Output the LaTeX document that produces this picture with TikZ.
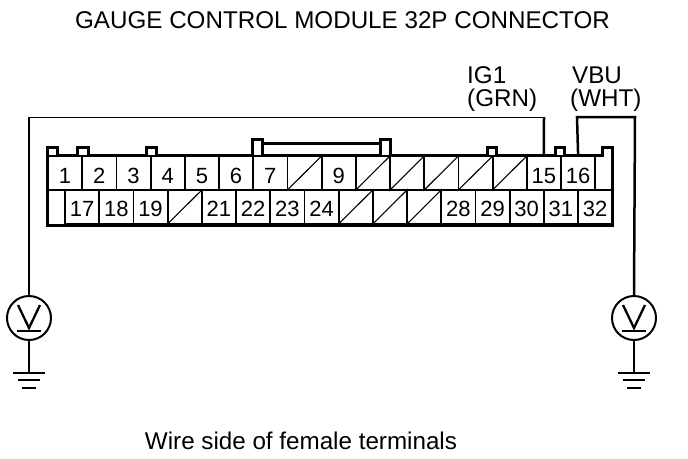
\documentclass[tikz,border=0pt]{standalone}
\usepackage{fontspec}
\setmainfont{Liberation Sans}
\tikzset{
  x=1pt,y=-1pt,
  cellbox/.style={draw,line width=1.8pt,inner sep=0pt,minimum width=34.2pt,minimum height=34pt,text depth=0pt,font=\fontsize{22}{22}\selectfont},
  toprow/.style={cellbox,text height=20pt},
  botrow/.style={cellbox,text height=19pt},
  outline/.style={line width=3pt,line join=miter},
  thinwire/.style={line width=1pt},
  midwire/.style={line width=1.7pt},
  thickwire/.style={line width=2.5pt},
  meter/.style={draw,circle,line width=2pt,minimum size=44pt,inner sep=0pt},
  slash/.style={line width=1.1pt},
  gnd/.style={line width=2.5pt},
  gndthin/.style={line width=1.7pt},
  label/.style={anchor=base west,inner sep=0pt,font=\fontsize{24.2}{24.2}\selectfont},
  caption/.style={anchor=base,inner sep=0pt,font=\fontsize{24.2}{24.2}\selectfont}
}
\begin{document}
\begin{tikzpicture}
\useasboundingbox[fill=white] (0,0) rectangle (688,458);
% cells, top row
\foreach \i/\t in {1/1,2/2,3/3,4/4,5/5,6/6,7/7,8/,9/9,10/,11/,12/,13/,14/,15/15,16/16}{
  \node[toprow] (t\i) at ({48+34.2*(\i-0.5)},173) {\t};
}
% cells, bottom row
\foreach \i/\t in {1/17,2/18,3/19,4/,5/21,6/22,7/23,8/24,9/,10/,11/,12/28,13/29,14/30,15/31,16/32}{
  \node[botrow] (b\i) at ({65+34.2*(\i-0.5)},207) {\t};
}
\foreach \n in {t8,t10,t11,t12,t13,t14,b4,b9,b10,b11}{
  \draw[slash] (\n.south west) -- (\n.north east);
}
% housing outline with tabs
\draw[outline] (47,225) -- (47,147) -- (57,147) -- (57,155) -- (77,155) -- (77,147) -- (88,147) -- (88,155)
  -- (146,155) -- (146,147) -- (156,147) -- (156,155) -- (252,155) -- (252,139) -- (262,139) -- (262,155)
  -- (380,155) -- (380,139) -- (390,139) -- (390,155) -- (487,155) -- (487,147) -- (496,147) -- (496,155)
  -- (555,155) -- (555,147) -- (564,147) -- (564,155) -- (602,155) -- (602,147) -- (612,147) -- (612,225) -- cycle;
\draw[outline] (262,143) -- (380,143);
% meters
\node[meter] (ml) at (29,318) {};
\node[meter] (mr) at (634,318) {};
\foreach \m in {ml,mr}{
  \draw[line width=2.3pt] ([shift={(-11,-13)}]\m.center) -- ([shift={(0,10)}]\m.center) -- ([shift={(11,-13)}]\m.center);
  \draw[line width=2.3pt] ([shift={(-12,13)}]\m.center) -- ([shift={(12,13)}]\m.center);
}
% wires
\coordinate (ltop) at (29,117);
\coordinate (igtop) at (544,117);
\coordinate (vtop) at (577,117);
\coordinate (rtop) at (635,117);
\draw[midwire] (ml.north) -- (ltop);
\draw[thinwire] (ltop) -- (igtop);
\draw[thickwire] (igtop) -- (t15.north);
\draw[thickwire,line join=miter] (t16.north) -- (vtop) -- (rtop) -- (mr.north);
% grounds
\coordinate (gl) at (29,373);
\coordinate (gr) at (634,373);
\draw[midwire] (ml.south) -- (gl);
\draw[midwire] (mr.south) -- (gr);
\foreach \g in {gl,gr}{
  \draw[gnd] ([xshift=-16]\g) -- ([xshift=16]\g);
  \draw[gndthin] ([shift={(-11,7)}]\g) -- ([shift={(11,7)}]\g);
  \draw[gndthin] ([shift={(-7,15)}]\g) -- ([shift={(7,15)}]\g);
}
% texts
\node[caption] (title) at (342.5,28) {GAUGE CONTROL MODULE 32P CONNECTOR};
\node[label] (ig1) at (467,83) {IG1};
\node[label] (grn) at (467,106) {(GRN)};
\node[label] (vbu) at (572,83) {VBU};
\node[label] (wht) at (570,106) {(WHT)};
\node[caption] (wire) at (301,449) {Wire side of female terminals};
\end{tikzpicture}
\end{document}
